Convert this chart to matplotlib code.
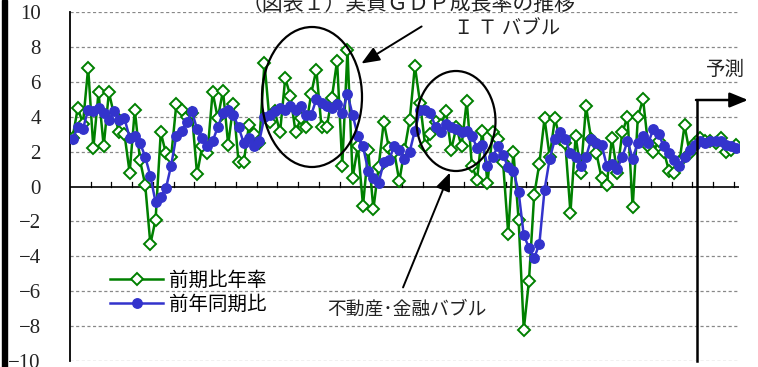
import numpy as np
import matplotlib.pyplot as plt
from matplotlib.patches import Ellipse, Rectangle
from matplotlib.lines import Line2D

# quarterly series, 1987Q1 - 2019Q1 (from 2017Q1 on: forecast)
years = list(range(1987, 2020))
quarters = [f'{y}Q{q}' for y in years for q in range(1, 5)][:129]

qoq_annual = [2.8, 4.5, 3.6, 6.8, 2.2, 5.4, 2.3, 5.4, 4.1, 3.1, 3.0, 0.8,
              4.4, 1.5, 0.1, -3.3, -1.9, 3.1, 1.9, 1.7, 4.7, 4.4, 4.0, 4.2,
              0.7, 2.3, 1.9, 5.4, 3.9, 5.5, 2.4, 4.7, 1.4, 1.4, 3.5, 3.0,
              2.5, 7.1, 3.7, 4.3, 3.1, 6.2, 5.2, 3.1, 3.9, 3.4, 5.3, 6.7,
              3.4, 3.4, 5.1, 7.2, 1.2, 7.8, 0.5, 2.3, -1.1, 2.1, -1.3, 1.1,
              3.7, 2.2, 2.0, 0.3, 2.1, 3.8, 6.9, 4.8, 2.3, 3.0, 3.7, 3.5,
              4.3, 2.1, 3.4, 2.3, 4.9, 1.2, 0.4, 3.2, 0.2, 3.1, 2.7, 1.4,
              -2.7, 2.0, -1.9, -8.2, -5.4, -0.5, 1.3, 3.9, 1.7, 3.9, 2.7, 2.5,
              -1.5, 2.9, 0.8, 4.6, 2.7, 1.9, 0.5, 0.1, 2.8, 0.8, 3.1, 4.0,
              -1.2, 4.0, 5.0, 2.3, 2.0, 2.6, 2.0, 0.9, 0.8, 1.4, 3.5, 1.9,
              2.5, 2.8, 2.6, 2.6, 2.5, 2.8, 2.0, 2.1, 2.4]

yoy = [2.7, 3.4, 3.3, 4.4, 4.3, 4.5, 4.2, 3.8, 4.3, 3.8, 3.9, 2.8,
       2.9, 2.5, 1.7, 0.6, -0.9, -0.6, -0.1, 1.2, 2.9, 3.2, 3.7, 4.3,
       3.3, 2.8, 2.3, 2.6, 3.4, 4.2, 4.4, 4.1, 3.4, 2.5, 2.8, 2.3,
       2.6, 4.0, 4.1, 4.3, 4.5, 4.4, 4.6, 4.4, 4.6, 4.1, 4.1, 5.0,
       4.8, 4.6, 4.5, 4.7, 4.2, 5.3, 4.1, 2.9, 2.3, 0.9, 0.5, 0.2,
       1.4, 1.5, 2.3, 2.1, 1.6, 2.0, 3.2, 4.4, 4.4, 4.2, 3.4, 3.1,
       3.6, 3.4, 3.3, 3.1, 3.2, 2.9, 2.2, 2.4, 1.2, 1.7, 2.3, 1.8,
       1.1, 0.9, -0.3, -2.8, -3.5, -4.1, -3.3, -0.2, 1.6, 2.7, 3.1, 2.7,
       1.9, 1.7, 1.2, 1.7, 2.7, 2.5, 2.4, 1.2, 1.3, 1.0, 1.7, 2.6,
       1.6, 2.5, 2.9, 2.5, 3.3, 3.0, 2.3, 1.9, 1.5, 1.2, 1.7, 2.1,
       2.4, 2.6, 2.5, 2.6, 2.6, 2.6, 2.4, 2.3, 2.2]

yticks = list(range(-10, 11, 2))
ytick_labels = [str(v).replace('-', '\u2212') for v in yticks]

JP = ['Noto Sans CJK JP', 'DejaVu Sans']
W, H = 758, 367


def fp(x, y):
    """pixel position (from top left) -> figure fraction"""
    return x / W, 1 - y / H


fig = plt.figure(figsize=(W / 100, H / 100), dpi=100)
ax = fig.add_axes([70 / W, 1 - 361 / H, (739 - 70) / W, (361 - 12) / H])

x = np.arange(len(quarters))
ax.plot(x, qoq_annual, color='#008000', lw=1.8, marker='D', ms=6.2,
        mfc='white', mec='#008000', mew=1.4, label='前期比年率', zorder=3)
ax.plot(x, yoy, color='#3333CC', lw=1.8, marker='o', ms=6.8,
        mfc='#3333CC', mec='#3333CC', label='前年同期比', zorder=4)

ax.set_xlim(-0.5, len(quarters) - 0.5)
ax.set_ylim(-10, 10)
ax.set_yticks(yticks)
ax.set_yticklabels(ytick_labels)
for lab in ax.get_yticklabels():
    lab.set_fontfamily(['Liberation Serif', 'DejaVu Serif'])
    lab.set_fontsize(15)
    lab.set_color('#222222')
ax.tick_params(axis='y', length=0, pad=21)
ax.set_xticks([])
for v in yticks:
    if v != 0:
        ax.axhline(v, color='#888888', lw=0.9, ls=(0, (2.5, 2)), zorder=1)
ax.axhline(0, color='black', lw=1.2, zorder=2)
# year ticks standing on the zero line
for xt in np.arange(3.5, len(quarters), 4):
    ax.plot([xt, xt], [0, 0.25], color='black', lw=0.9, zorder=2)

for s in ['top', 'right', 'bottom']:
    ax.spines[s].set_visible(False)
ax.spines['left'].set_linewidth(1.3)

leg = ax.legend(loc='upper left', bbox_to_anchor=fp(110, 270),
                bbox_transform=fig.transFigure, frameon=False,
                prop={'family': JP, 'size': 14}, handlelength=2.75,
                handletextpad=0.3, labelspacing=0.15, borderpad=0,
                borderaxespad=0)

# title (cut off at the top edge)
fig.text(*fp(409, 10), '（図表１）実質ＧＤＰ成長率の推移', family=JP,
         fontsize=15, ha='center', va='baseline', color='#222222')

# IT bubble
fig.add_artist(Ellipse(fp(312, 97), 100 / W, 140 / H, fill=False,
                       ec='black', lw=1.6, transform=fig.transFigure))
ax.annotate('', xy=fp(359, 65), xytext=fp(424, 25),
            xycoords='figure fraction', textcoords='figure fraction',
            arrowprops=dict(arrowstyle='-|>,head_length=1.1,head_width=0.45',
                            color='black', lw=1.4))
fig.text(*fp(507, 29), 'Ｉ Ｔ バブル', family=JP, fontsize=14,
         ha='center', va='center', color='#222222')

# real estate / financial bubble
fig.add_artist(Ellipse(fp(456, 121), 79 / W, 100 / H, fill=False,
                       ec='black', lw=1.6, transform=fig.transFigure))
ax.annotate('', xy=fp(451, 170), xytext=fp(402, 290),
            xycoords='figure fraction', textcoords='figure fraction',
            arrowprops=dict(arrowstyle='-|>,head_length=1.1,head_width=0.45',
                            color='black', lw=1.4))
fig.text(*fp(407, 309), '不動産･金融バブル', family=JP, fontsize=13.5,
         ha='center', va='center', color='#222222')

# forecast marker
fig.add_artist(Line2D([697 / W, 697 / W], [1 - 100 / H, 1 - 361 / H],
                      color='black', lw=1.8, transform=fig.transFigure))
ax.annotate('', xy=fp(748, 100), xytext=fp(696, 100),
            xycoords='figure fraction', textcoords='figure fraction',
            arrowprops=dict(arrowstyle='-|>,head_length=1.1,head_width=0.45',
                            color='black', lw=1.8, shrinkA=0, shrinkB=0))
fig.text(*fp(725, 69), '予測', family=JP, fontsize=14,
         ha='center', va='center', color='#222222')

# frame edge on the left
fig.add_artist(Rectangle((2 / W, 0), 5 / W, 1, color='black',
                         transform=fig.transFigure))

fig.savefig('out.png', dpi=100)
